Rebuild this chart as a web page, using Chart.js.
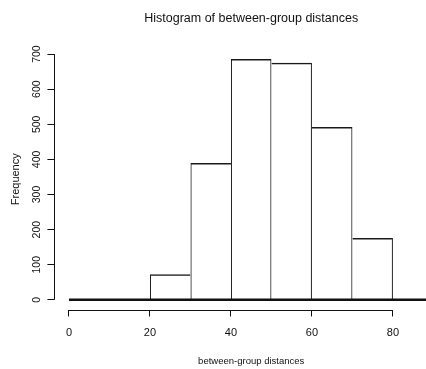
<!DOCTYPE html>
<html><head><meta charset="utf-8">
<script src="https://cdn.jsdelivr.net/npm/chart.js@4.4.1/dist/chart.umd.min.js"></script>
<style>
html,body{margin:0;padding:0;background:#fff;overflow:hidden;width:426px;height:369px;}
#wrap{width:448px;height:369px;}
</style></head><body>
<div id="wrap"><canvas id="c" width="448" height="369"></canvas></div>
<script>
// Histogram bins (break points) and counts per bin
const breaks = [0, 10, 20, 30, 40, 50, 60, 70, 80, 90];
const counts = [0, 0, 73, 390, 686, 675, 492, 176, 0];
const xTicks = [0, 20, 40, 60, 80];
const yTicks = [0, 100, 200, 300, 400, 500, 600, 700];
const titleText = 'Histogram of between-group distances';
const xLabel = 'between-group distances';
const yLabel = 'Frequency';

const FONT = "'Liberation Sans', Arial, sans-serif";
const INK = '#111';

const bins = [];
for (let i = 0; i < counts.length; i++) {
  if (counts[i] > 0) bins.push({ x: (breaks[i] + breaks[i + 1]) / 2, y: counts[i] });
}
const barVals = bins.map(b => b.y);
const baseline = [{ x: breaks[0], y: 0 }, { x: breaks[breaks.length - 1], y: 0 }];

const axisLines = {
  id: 'axisLines',
  afterDraw(chart) {
    const { ctx, scales: { x, y }, chartArea } = chart;
    ctx.save();
    ctx.strokeStyle = INK;
    ctx.lineWidth = 1;
    const ax = Math.round(chartArea.left) + 0.5;
    ctx.beginPath();
    ctx.moveTo(ax, y.getPixelForValue(yTicks[0]));
    ctx.lineTo(ax, y.getPixelForValue(yTicks[yTicks.length - 1]));
    ctx.stroke();
    const ay = Math.round(chartArea.bottom) + 0.5;
    ctx.beginPath();
    ctx.moveTo(x.getPixelForValue(xTicks[0]), ay);
    ctx.lineTo(x.getPixelForValue(xTicks[xTicks.length - 1]), ay);
    ctx.stroke();
    ctx.restore();
  }
};

new Chart(document.getElementById('c'), {
  type: 'bar',
  data: {
    datasets: [
      {
        type: 'line',
        data: baseline,
        borderColor: INK,
        borderWidth: 2.5,
        pointRadius: 0,
        order: 0
      },
      {
        data: bins,
        backgroundColor: 'rgba(255,255,255,0)',
        borderColor: '#1a1a1a',
        borderSkipped: false,
        inflateAmount: 0,
        borderWidth: ctx => {
          const i = ctx.dataIndex;
          const prev = i > 0 ? barVals[i - 1] : -1;
          const next = i < barVals.length - 1 ? barVals[i + 1] : -1;
          return { top: 1.5, bottom: 0, left: barVals[i] >= prev ? 1 : 0, right: barVals[i] > next ? 1 : 0 };
        },
        barPercentage: 1,
        categoryPercentage: 1,
        order: 1
      }
    ]
  },
  options: {
    responsive: false,
    animation: false,
    events: [],
    layout: { padding: 0 },
    plugins: {
      legend: { display: false },
      tooltip: { enabled: false },
      title: {
        display: true,
        text: titleText,
        fullSize: false,
        color: INK,
        font: { family: FONT, size: 12.5, weight: 'normal' },
        padding: { top: 11.5, bottom: 22.5 }
      }
    },
    scales: {
      x: {
        type: 'linear',
        min: -3.6,
        max: 93.6,
        offset: false,
        afterBuildTicks: s => { s.ticks = xTicks.map(v => ({ value: v })); },
        afterFit: s => { s.height = 59.5; },
        border: { display: false },
        grid: { drawOnChartArea: false, drawTicks: true, tickLength: 7, color: INK, offset: false },
        ticks: { color: INK, padding: 10, maxRotation: 0, autoSkip: false, font: { family: FONT, size: 11 } },
        title: { display: true, text: xLabel, color: INK, font: { family: FONT, size: 9.5 }, padding: { top: 0, bottom: 2 } }
      },
      y: {
        type: 'linear',
        min: -27.5,
        max: 714.5,
        afterBuildTicks: s => { s.ticks = yTicks.map(v => ({ value: v })); },
        afterFit: s => { s.width = 54.4; },
        border: { display: false },
        grid: { drawOnChartArea: false, drawTicks: true, tickLength: 7, color: INK },
        ticks: { color: INK, padding: 1.2, minRotation: 90, maxRotation: 90, crossAlign: 'center', autoSkip: false, font: { family: FONT, size: 10.5 } },
        title: { display: true, text: yLabel, color: INK, font: { family: FONT, size: 11 }, padding: { top: 9, bottom: 0 } }
      }
    }
  },
  plugins: [axisLines]
});
</script>
</body></html>
